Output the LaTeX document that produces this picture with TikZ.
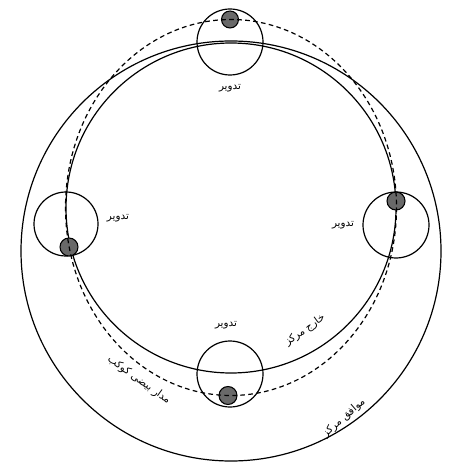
\documentclass[tikz,border=0pt]{standalone}
\usepackage{fontspec}
\newfontfamily\arabicfont[Script=Arabic]{DejaVu Sans}
\TeXXeTstate=1
\tikzset{every picture/.style={line width=0.9pt}}
\tikzset{
  ball/.style={draw=black, fill={rgb, 255:red, 105; green, 105; blue, 105}, line width=0.8pt},
  orbit/.style={dash pattern=on 3.5pt off 2.5pt},
  label/.style={inner sep=0.75pt, font=\arabicfont\fontsize{7.8}{9}\selectfont}
}

\begin{document}
\begin{tikzpicture}[x=0.75pt,y=0.75pt,yscale=-1,xscale=1]
\useasboundingbox (0,0) rectangle (473,473);

%Shape: Circle (equant)
\draw   (231,251) circle [radius=210] ;
%Shape: Circle (eccentric)
\draw   (231,208) circle [radius=165] ;

%Shape: Circle (epicycles)
\draw   (230,42) circle [radius=33] ;
\draw   (66,224) circle [radius=32] ;
\draw   (396,225) circle [radius=33] ;
\draw   (230,374) circle [radius=33] ;

%Shape: Circle (planet)
\draw [ball]  (230,19.5) circle [radius=8.5] ;
\draw [ball]  (69,247) circle [radius=9] ;
\draw [ball]  (396,201) circle [radius=9] ;
\draw [ball]  (228,395.5) circle [radius=9] ;

%Shape: Ellipse (orbit)
\draw [orbit]  (231,207.5) ellipse [x radius=165.5, y radius=188] ;

% Text Node
\draw (230,88) node [label] (tadvirtop) {\beginR تدویر\endR};
% Text Node
\draw (118,218) node [label] (tadvirleft) {\beginR تدویر\endR};
% Text Node
\draw (343,225) node [label] (tadvirright) {\beginR تدویر\endR};
% Text Node
\draw (226,325) node [label] (tadvirbottom) {\beginR تدویر\endR};
% Text Node
\draw (305,330) node [label, rotate=36] (kharej) {\beginR خارج مرکز\endR};
% Text Node
\draw (139,380) node [label, rotate=-36] (madar) {\beginR مدار بیضی کوکب\endR};
% Text Node
\draw (344,418) node [label, rotate=41] (movafegh) {\beginR موافق مرکز\endR};

\end{tikzpicture}
\end{document}
